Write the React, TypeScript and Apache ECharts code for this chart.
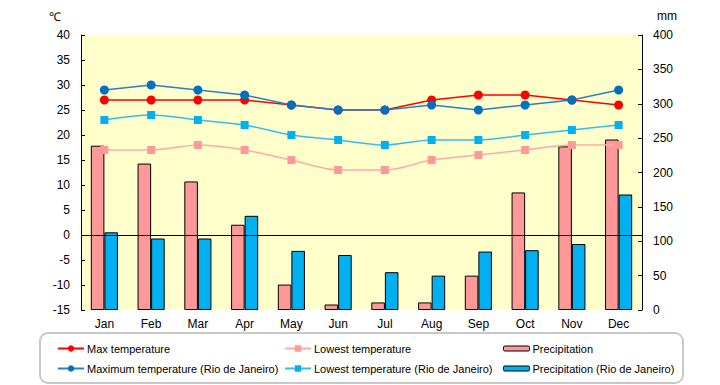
import React, { useEffect, useRef } from "react";
import * as echarts from "echarts";

const months = ["Jan", "Feb", "Mar", "Apr", "May", "Jun", "Jul", "Aug", "Sep", "Oct", "Nov", "Dec"];
const maxTemp = [27, 27, 27, 27, 26, 25, 25, 27, 28, 28, 27, 26];
const lowTemp = [17, 17, 18, 17, 15, 13, 13, 15, 16, 17, 18, 18];
const precip = [239, 213, 187, 124, 37, 8, 11, 11, 50, 171, 238, 248];
const maxTempRio = [29, 30, 29, 28, 26, 25, 25, 26, 25, 26, 27, 29];
const lowTempRio = [23, 24, 23, 22, 20, 19, 18, 19, 19, 20, 21, 22];
const precipRio = [113, 104, 104, 137, 86, 80, 55, 50, 85, 87, 96, 168];

const FONT = "Liberation Sans";

export default function App() {
  const ref = useRef<HTMLDivElement>(null);
  useEffect(() => {
    document.body.style.margin = "0";
    const chart = echarts.init(ref.current!, null, { renderer: "svg" });
    const lineSeries = (name: string, data: number[], color: string, lineColor: string, symbol: string, size: number, smooth: any, extra: any = {}) => ({
      name,
      type: "line",
      yAxisIndex: 0,
      data,
      symbol,
      symbolSize: size,
      smooth,
      z: 5,
      itemStyle: { color },
      lineStyle: { color: lineColor, width: 1.5 },
      ...extra,
    });
    const legendText = { color: "#000", fontSize: 11, fontFamily: FONT, padding: [0, 0, 0, -2] };
    chart.setOption({
      animation: false,
      textStyle: { fontFamily: FONT },
      grid: {
        left: 81,
        right: 78,
        top: 35,
        bottom: 75,
        show: true,
        backgroundColor: "#ffffcc",
        borderWidth: 0,
      },
      xAxis: {
        type: "category",
        data: months,
        axisLine: { show: false },
        axisTick: { show: false },
        axisLabel: { color: "#000", fontSize: 12, margin: 8, fontFamily: FONT },
      },
      yAxis: [
        {
          type: "value",
          min: -15,
          max: 40,
          interval: 5,
          position: "left",
          splitLine: { show: false },
          axisLine: { show: true, lineStyle: { color: "#000", width: 1 } },
          axisTick: { show: true, inside: true, length: 4, lineStyle: { color: "#000" } },
          axisLabel: { color: "#000", fontSize: 12, margin: 11, fontFamily: FONT },
        },
        {
          type: "value",
          min: 0,
          max: 400,
          interval: 50,
          position: "right",
          splitLine: { show: false },
          axisLine: { show: true, lineStyle: { color: "#000", width: 1 } },
          axisTick: { show: true, inside: true, length: 4, lineStyle: { color: "#000" } },
          axisLabel: { color: "#000", fontSize: 12, margin: 11, fontFamily: FONT },
        },
      ],
      legend: [
        {
          orient: "vertical",
          left: 52,
          top: 338,
          itemWidth: 26,
          itemHeight: 8,
          itemGap: 9,
          textStyle: legendText,
          data: ["Max temperature", "Maximum temperature (Rio de Janeiro)"],
        },
        {
          orient: "vertical",
          left: 279,
          top: 338,
          itemWidth: 26,
          itemHeight: 8,
          itemGap: 9,
          textStyle: legendText,
          data: ["Lowest temperature", "Lowest temperature (Rio de Janeiro)"],
        },
        {
          orient: "vertical",
          left: 498,
          top: 338,
          itemWidth: 26,
          itemHeight: 5,
          itemGap: 9,
          itemStyle: { borderWidth: 1, borderColor: "#000" },
          textStyle: legendText,
          data: ["Precipitation", "Precipitation (Rio de Janeiro)"],
        },
      ],
      graphic: [
        {
          type: "rect",
          shape: { x: 40, y: 333, width: 643, height: 50, r: 8 },
          style: { fill: "none", stroke: "#c8c8c8", lineWidth: 2 },
          silent: true,
        },
        {
          type: "text",
          x: 55,
          y: 17,
          style: { text: "℃", fill: "#000", fontSize: 12, fontFamily: FONT, align: "center", verticalAlign: "middle" },
        },
        {
          type: "text",
          x: 667,
          y: 16,
          style: { text: "mm", fill: "#000", fontSize: 12, fontFamily: FONT, align: "center", verticalAlign: "middle" },
        },
      ],
      series: [
        {
          name: "Precipitation",
          type: "bar",
          yAxisIndex: 1,
          data: precip,
          barGap: "0%",
          barCategoryGap: "42%",
          itemStyle: { color: "#ff9999", borderColor: "#000", borderWidth: 1 },
          z: 2,
        },
        {
          name: "Precipitation (Rio de Janeiro)",
          type: "bar",
          yAxisIndex: 1,
          data: precipRio,
          barGap: "0%",
          barCategoryGap: "42%",
          itemStyle: { color: "#00b0f0", borderColor: "#000", borderWidth: 1 },
          z: 2,
        },
        lineSeries("Max temperature", maxTemp, "#ff0000", "#ff0000", "circle", 9, false, {
          markLine: {
            silent: true,
            symbol: "none",
            label: { show: false },
            lineStyle: { color: "#000", width: 1, type: "solid" },
            data: [{ yAxis: 0 }],
            z: 3,
          },
        }),
        lineSeries("Lowest temperature", lowTemp, "#ff9999", "#ffaaaa", "rect", 8, 0.3),
        lineSeries("Maximum temperature (Rio de Janeiro)", maxTempRio, "#0070c0", "#2a80c8", "circle", 9, false),
        lineSeries("Lowest temperature (Rio de Janeiro)", lowTempRio, "#00b0f0", "#33bdf0", "rect", 8, 0.3),
      ],
    });
    return () => chart.dispose();
  }, []);
  return <div ref={ref} style={{ width: 720, height: 385 }} />;
}
